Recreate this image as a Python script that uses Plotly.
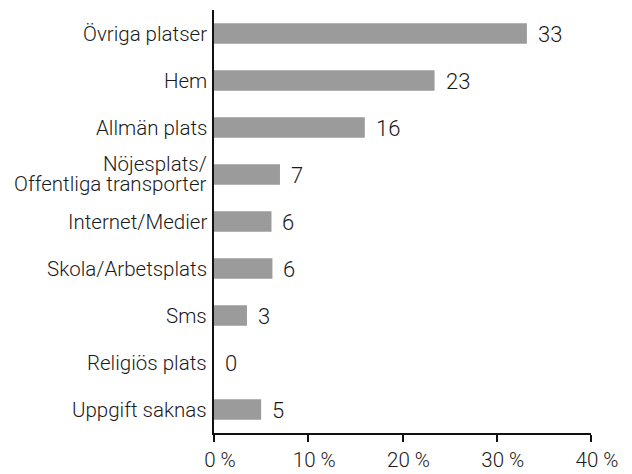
import plotly.graph_objects as go

categories = ["Övriga platser", "Hem", "Allmän plats", "Nöjesplats/<br>Offentliga transporter",
              "Internet/Medier", "Skola/Arbetsplats", "Sms", "Religiös plats", "Uppgift saknas"]
values = [33.2, 23.4, 16.0, 7.0, 6.1, 6.2, 3.5, 0.0, 5.0]
value_labels = ["33", "23", "16", "7", "6", "6", "3", "0", "5"]
tick_vals = [0, 10, 20, 30, 40]
tick_text = ["0 %", "10 %", "20 %", "30 %", "40 %"]

FONT = "Roboto"
TXT = "#1a1a1a"

fig = go.Figure(go.Bar(
    x=values, y=categories, orientation="h",
    marker=dict(color="#9b9b9b", line=dict(width=0)),
    hoverinfo="skip",
))

# value labels right of the bars
for v, c, t in zip(values, categories, value_labels):
    fig.add_annotation(x=v, y=c, text=t, showarrow=False, xanchor="left",
                       xshift=9, yshift=-1, font=dict(family=FONT, size=22, color=TXT, weight=300))

# category labels (drawn as annotations for tight line spacing)
for c in categories:
    lines = c.split("<br>")
    shifts = [0] if len(lines) == 1 else [11, -9]
    for ln, s in zip(lines, shifts):
        fig.add_annotation(x=0, xref="paper", y=c, text=ln, showarrow=False, xanchor="right",
                           xshift=-6, yshift=s, borderpad=0,
                           font=dict(family=FONT, size=20.5, color=TXT, weight=300))

fig.update_layout(
    width=624, height=466,
    margin=dict(l=206, r=41, t=2, b=41, autoexpand=False),
    plot_bgcolor="white", paper_bgcolor="white",
    bargap=0.56, showlegend=False,
    font=dict(family=FONT, size=20, color=TXT, weight=300),
)
fig.update_yaxes(autorange="reversed", showline=True, linecolor="#111", linewidth=1.5,
                 ticks="", showgrid=False, zeroline=False, showticklabels=False, automargin=False)
fig.update_xaxes(range=[0, 40], tickvals=tick_vals, ticktext=tick_text, ticks="outside",
                 ticklen=7, tickwidth=1.5, tickcolor="#111", showline=True, linecolor="#111",
                 linewidth=1.5, showgrid=False, zeroline=False, ticklabelshift=6, automargin=False,
                 ticklabelstandoff=1, tickfont=dict(family=FONT, size=20.5, color=TXT, weight=300))

fig.write_html("out.html")
